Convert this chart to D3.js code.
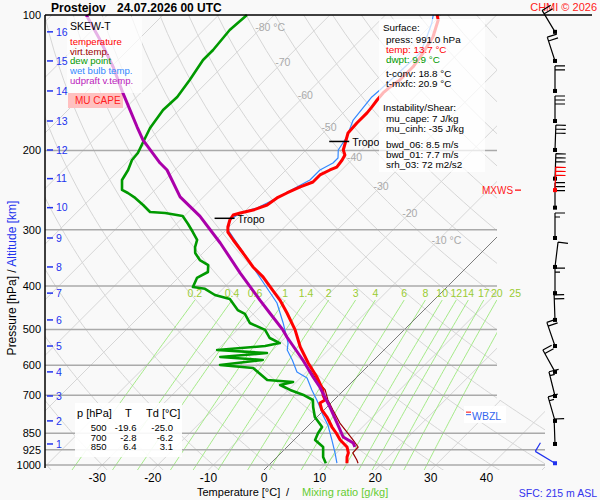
<!DOCTYPE html>
<html>
<head>
<meta charset="utf-8">
<script src="https://cdn.jsdelivr.net/npm/d3@7"></script>
<style>
  body { margin: 0; background: #f9f9f9; }
  text { font-family: "Liberation Sans", Arial, sans-serif; }
</style>
</head>
<body>
<div id="chart"></div>
<script>
// ── Sounding data ──
const tempP = [100, 102.6, 111.9, 121.5, 130.5, 139.5, 144.5, 149, 154.5, 160, 165, 173.8, 182.9, 192.5, 199.5, 204.7, 210, 217.7, 221, 226.7, 235, 241, 248.6, 255, 264.4, 271.3, 275.4, 278.3, 285.5, 295.9, 303.6, 316.2, 338, 363, 382, 408, 430, 459.4, 501, 546.7, 593.3, 637.5, 681, 700, 717, 728, 754.6, 782.3, 823.4, 850, 879.7, 912, 940, 960, 991];
const tempT = [-50.7, -49.6, -47.5, -46.4, -45.7, -45.7, -46.2, -46.4, -46.2, -45.9, -45.7, -45.7, -45.5, -44.2, -43.3, -42.1, -41.7, -41.4, -42.1, -43.0, -43.0, -44.4, -45.7, -46.6, -47.1, -48.7, -50.5, -51.4, -51.1, -50.2, -49.3, -46.9, -42.8, -38.5, -34.9, -30.9, -27.7, -24.1, -19.6, -15.6, -11.3, -7.2, -3.8, -2.8, -1.6, -2.0, -0.4, 1.8, 4.5, 6.4, 8.3, 10.8, 12.1, 12.6, 13.7];

const dewP = [100, 108, 119.6, 125.9, 139.5, 152.1, 162.6, 178.3, 187.6, 202.6, 210, 221, 232.6, 244.8, 248.6, 255, 264.4, 274, 275.4, 279.8, 291.4, 303.6, 316.2, 327.8, 338, 350.4, 359.4, 372.5, 384, 402.2, 406, 419, 427.7, 452.5, 461.7, 483.5, 501, 522.2, 535.8, 544, 555.3, 564, 575.4, 584.3, 599.4, 608.7, 647.4, 654, 664, 681, 700, 717, 743, 782, 823, 850, 880, 912, 960, 991];
const dewT = [-84.9, -85.3, -84.7, -84.7, -83.5, -82.7, -82.9, -82.0, -81.1, -79.7, -79.5, -78.4, -77.7, -75.9, -74.3, -72.1, -69.4, -66.9, -64.0, -60.3, -57.9, -55.6, -53.4, -52.5, -51.4, -49.3, -46.9, -45.7, -46.6, -45.7, -43.2, -40.3, -36.9, -33.5, -31.5, -29.0, -25.0, -22.7, -20.0, -22.1, -30.0, -20.5, -28.2, -20.0, -26.8, -20.3, -15.6, -10.6, -12.4, -9.7, -6.2, -3.8, -2.5, -0.4, 2.7, 3.1, 3.8, 6.5, 8.3, 9.9];

const wetP = [100, 104.2, 111.9, 121.5, 146.8, 152.1, 171.2, 186.6, 199.5, 207.9, 213.3, 221, 232.6, 241, 257.7, 268.4, 275.4, 285.5, 300.5, 321.1, 355.7, 392, 436.5, 483.5, 535.8, 555.3, 584.3, 621.3, 640.7, 681, 717, 743, 774.4, 815, 879.7, 940, 991];
const wetT = [-51.4, -50.2, -48.6, -46.9, -47.5, -47.7, -46.9, -45.0, -44.2, -42.8, -42.8, -43.9, -43.9, -45.0, -46.9, -48.4, -50.5, -51.1, -49.6, -45.7, -39.7, -34.0, -27.7, -23.0, -18.5, -17.4, -14.7, -11.7, -8.8, -5.8, -3.1, -1.3, 0.7, 3.4, 6.8, 9.7, 11.9];

const virtP = [615, 647.4, 681, 717, 754.6, 806.7, 844.9, 879.7, 912, 940, 974.7, 991];
const virtT = [-9.7, -6.7, -3.4, -1.1, 1.6, 5.2, 8.1, 10.6, 12.8, 12.9, 14.9, 15.7];

const parcelP = [100, 113.7, 130.5, 149, 177.4, 189.6, 213.3, 221, 253.7, 279.8, 321.1, 374.5, 430, 459.4, 501, 519.5, 584.3, 637.5, 671, 743, 806.7, 866.4, 893.4, 912];
const parcelT = [-113.8, -106.8, -99.6, -93.2, -84.5, -81.1, -73.9, -71.4, -64.2, -57.2, -48.7, -39.7, -31.3, -27.2, -21.8, -19.8, -12.8, -7.9, -4.9, 0.5, 4.7, 8.3, 11.2, 12.2];

// ── Axes / grid values ──
const pressureTicks = [100, 200, 300, 400, 500, 600, 700, 850, 925, 1000];
const tempTicks = [-30, -20, -10, 0, 10, 20, 30, 40];
const mixRatios = [0.2, 0.4, 0.6, 1, 1.4, 2, 3, 4, 6, 8, 10, 12, 14, 17, 20, 25];
const isoLabelT = [-80, -70, -60, -50, -40, -30, -20, -10];
const isoLabelP = [106.3, 127.2, 150.6, 177.4, 206.9, 240, 275.4, 316.2];
const kmAlt = [1, 2, 3, 4, 5, 6, 7, 8, 9, 10, 11, 12, 13, 14, 15, 16];
const kmP = [898, 798, 702.5, 621, 544, 476, 415, 363, 313, 268, 231, 199.5, 172, 147.5, 126.5, 109];

// ── Wind (surface first, then every km) ──
const windP = [991, 898, 798, 702.5, 621, 544, 476, 415, 363, 313, 268, 231, 199.5, 172, 147.5, 126.5, 109];
const windDir = [301, 358, 344, 346, 331, 341, 358, 0, 7, 0, 0, 2, 2, 0, 0, 342, 329];
const windSpd = [10, 10, 15, 15, 20, 20, 20, 15, 10, 15, 30, 30, 30, 30, 20, 20, 20];
const mxwsP = 245, mxwsDir = 2, mxwsSpd = 30;

// ── Special levels ──
const tropoP = [191, 283];
const tropoT = [-44.3, -51.1];
const freezeP = 763, wbzlP = 773;

// ── Text blocks ──
const legendItems = [
  { label: "temperature", color: "#ff0000" },
  { label: "virt.temp.", color: "#990000" },
  { label: "dew point", color: "#009900" },
  { label: "wet bulb temp.", color: "#3388ff" },
  { label: "udpraft v.temp.", color: "#bb22bb" },
];
const surfaceLines = [
  { text: "Surface:", color: "#000", x: 383, y: 31 },
  { text: "press: 991.0 hPa", color: "#000", x: 386, y: 43 },
  { text: "temp: 13.7 °C", color: "#ff0000", x: 386, y: 53 },
  { text: "dwpt: 9.9 °C", color: "#009900", x: 386, y: 63 },
  { text: "t-conv: 18.8 °C", color: "#000", x: 386, y: 77 },
  { text: "t-mxfc: 20.9 °C", color: "#000", x: 386, y: 87 },
  { text: "Instability/Shear:", color: "#000", x: 383, y: 111 },
  { text: "mu_cape: 7 J/kg", color: "#000", x: 386, y: 122 },
  { text: "mu_cinh: -35 J/kg", color: "#000", x: 386, y: 132 },
  { text: "bwd_06: 8.5 m/s", color: "#000", x: 386, y: 148 },
  { text: "bwd_01: 7.7 m/s", color: "#000", x: 386, y: 158 },
  { text: "srh_03: 72 m2/s2", color: "#000", x: 386, y: 168 },
];
const tableP = ["500", "700", "850"];
const tableT = ["-19.6", "-2.8", "6.4"];
const tableTd = ["-25.0", "-6.2", "3.1"];

const width = 600, height = 500;
const plot = { left: 45, right: 497, top: 15, bottom: 470 };

const svg = d3.select("#chart").append("svg")
  .attr("width", width)
  .attr("height", height);

svg.append("rect").attr("width", width).attr("height", height).attr("fill", "#f9f9f9");

// log-p vertical, skewed temperature horizontal (45 degrees)
const y = d3.scaleLog().domain([100, 1000]).range([15, 465]);
const xt = d3.scaleLinear().domain([0, 10]).range([264, 319.6]);
const sx = (t, p) => xt(t) + (plot.bottom - y(p));

const defs = svg.append("defs");
defs.append("clipPath").attr("id", "diag")
  .append("path")
  .attr("d", `M${plot.left},${plot.top}H${plot.right}V400H545V${plot.bottom}H${plot.left}Z`);

const grid = svg.append("g").attr("clip-path", "url(#diag)");

// ── Isotherms ──
d3.range(-150, 60, 10).forEach((t) => {
  grid.append("line")
    .attr("x1", xt(t)).attr("y1", plot.bottom)
    .attr("x2", xt(t) + (plot.bottom - plot.top)).attr("y2", plot.top)
    .attr("stroke", "#d6d6d6").attr("stroke-width", 1);
});

// ── Dry adiabats ──
const adiabatLine = d3.line().x((d) => sx(d.t, d.p)).y((d) => y(d.p));
d3.range(-40, 190, 10).forEach((t0) => {
  const theta = t0 + 273.15;
  const pts = d3.range(1040, 95, -10).map((p) => ({ p, t: theta * Math.pow(p / 1000, 0.2857) - 273.15 }));
  grid.append("path")
    .attr("d", adiabatLine(pts))
    .attr("fill", "none")
    .attr("stroke", "#d6d6d6").attr("stroke-width", 1);
});

// ── Mixing ratio lines ──
function tdFromMix(w, p) {
  const e = (w * p) / (622 + w);
  const l = Math.log(e / 6.112);
  return (243.5 * l) / (17.67 - l);
}
mixRatios.forEach((w) => {
  const pts = d3.range(1040, 429, -10).map((p) => ({ p, t: tdFromMix(w, p) }));
  pts.push({ p: 430, t: tdFromMix(w, 430) });
  grid.append("path")
    .attr("d", adiabatLine(pts))
    .attr("fill", "none")
    .attr("stroke", "#9be87a").attr("stroke-width", 0.9);
});

// 0 °C isotherm
grid.append("line")
  .attr("x1", xt(0)).attr("y1", plot.bottom)
  .attr("x2", xt(0) + (plot.bottom - plot.top)).attr("y2", plot.top)
  .attr("stroke", "#666").attr("stroke-width", 0.8);

// ── Isobars ──
pressureTicks.filter((p) => p > 100).forEach((p) => {
  svg.append("line")
    .attr("x1", plot.left).attr("x2", p >= 850 ? 545 : plot.right)
    .attr("y1", y(p)).attr("y2", y(p))
    .attr("stroke", "#aaa").attr("stroke-width", 1.5);
});

// mixing ratio labels
mixRatios.forEach((w) => {
  svg.append("text")
    .attr("x", sx(tdFromMix(w, 430), 430))
    .attr("y", 297)
    .attr("text-anchor", "middle")
    .attr("fill", "#99cc33")
    .attr("font-size", "10.5px")
    .text(w);
});

// isotherm labels
isoLabelT.forEach((t, i) => {
  const withUnit = t === -80 || t === -10;
  svg.append("text")
    .attr("x", sx(t, isoLabelP[i]) - (withUnit ? 7 : 0))
    .attr("y", y(isoLabelP[i]))
    .attr("dy", "0.35em")
    .attr("text-anchor", withUnit ? "start" : "middle")
    .attr("fill", "#aaa")
    .attr("font-size", "10.5px")
    .text(withUnit ? `${t} °C` : t);
});

// ── MU CAPE legend patch (under the curves) ──
svg.append("rect")
  .attr("x", 68).attr("y", 93).attr("width", 55).attr("height", 15)
  .attr("fill", "#ffc0c0");
svg.append("text")
  .attr("x", 75).attr("y", 104)
  .attr("fill", "#ff2020").attr("font-size", "10px")
  .text("MU CAPE");

// ── Profiles ──
const toPts = (P, T) => P.map((p, i) => ({ p, t: T[i] }));
const curves = [
  { P: wetP, T: wetT, color: "#3388ff", w: 1.2 },
  { P: virtP, T: virtT, color: "#990000", w: 1.2 },
  { P: dewP, T: dewT, color: "#009900", w: 2.6 },
  { P: tempP, T: tempT, color: "#ff0000", w: 3 },
  { P: parcelP, T: parcelT, color: "#aa00aa", w: 3 },
];
curves.forEach((c) => {
  svg.append("path")
    .attr("d", adiabatLine(toPts(c.P, c.T)))
    .attr("fill", "none")
    .attr("stroke", c.color)
    .attr("stroke-width", c.w)
    .attr("stroke-linejoin", "round");
});

// tropopause markers
tropoP.forEach((p, i) => {
  const tx = sx(tropoT[i], p);
  svg.append("line")
    .attr("x1", tx - 17).attr("x2", tx + 3)
    .attr("y1", y(p)).attr("y2", y(p))
    .attr("stroke", "#000").attr("stroke-width", 1.5);
  svg.append("text")
    .attr("x", tx + 6).attr("y", y(p) + 5)
    .attr("font-size", "10.5px")
    .text("Tropo");
});

// ── Translucent info boxes ──
svg.append("rect")
  .attr("x", 67).attr("y", 17).attr("width", 75).attr("height", 76)
  .attr("fill", "#fff").attr("opacity", 0.7);
svg.append("rect")
  .attr("x", 379).attr("y", 19).attr("width", 106).attr("height", 153)
  .attr("fill", "#fff").attr("opacity", 0.72);
svg.append("rect")
  .attr("x", 75).attr("y", 403).attr("width", 107).attr("height", 54)
  .attr("fill", "#fff").attr("opacity", 0.9);
svg.append("rect")
  .attr("x", 464).attr("y", 406).attr("width", 42).attr("height", 17)
  .attr("fill", "#fff").attr("opacity", 0.9);

// legend
svg.append("text").attr("x", 70).attr("y", 30).attr("font-size", "10.5px").text("SKEW-T");
legendItems.forEach((item, i) => {
  svg.append("text")
    .attr("x", 70).attr("y", 45 + i * 9.7)
    .attr("fill", item.color)
    .attr("font-size", "9.6px")
    .text(item.label);
});

// surface block
surfaceLines.forEach((l) => {
  svg.append("text")
    .attr("x", l.x).attr("y", l.y)
    .attr("fill", l.color)
    .attr("font-size", "9.9px")
    .text(l.text);
});

// level table
svg.append("text").attr("x", 77).attr("y", 417).attr("font-size", "11px").text("p [hPa]");
svg.append("text").attr("x", 125).attr("y", 417).attr("font-size", "11px").text("T");
svg.append("text").attr("x", 146).attr("y", 417).attr("font-size", "11px").text("Td [°C]");
tableP.forEach((p, i) => {
  const ry = 431 + i * 9.6;
  [[p, 106.5], [tableT[i], 136.5], [tableTd[i], 173]].forEach(([v, x]) => {
    svg.append("text")
      .attr("x", x).attr("y", ry)
      .attr("text-anchor", "end")
      .attr("font-size", "9.5px")
      .text(v);
  });
});

// WBZL / freezing level
svg.append("line").attr("x1", 466).attr("x2", 471).attr("y1", y(freezeP)).attr("y2", y(freezeP))
  .attr("stroke", "#ff0000").attr("stroke-width", 1);
svg.append("line").attr("x1", 466).attr("x2", 471).attr("y1", y(wbzlP)).attr("y2", y(wbzlP))
  .attr("stroke", "#3366ee").attr("stroke-width", 1);
svg.append("text").attr("x", 472).attr("y", 420)
  .attr("fill", "#3366ee").attr("font-size", "10.5px").text("WBZL");

// ── Frame and axes ──
svg.append("line")
  .attr("x1", plot.left).attr("x2", 592).attr("y1", plot.top).attr("y2", plot.top)
  .attr("stroke", "#000").attr("stroke-width", 1.5);
svg.append("line")
  .attr("x1", plot.left).attr("x2", plot.left).attr("y1", plot.top).attr("y2", 468)
  .attr("stroke", "#000").attr("stroke-width", 1.5);

pressureTicks.forEach((p) => {
  svg.append("text")
    .attr("x", 41).attr("y", y(p))
    .attr("dy", "0.35em")
    .attr("text-anchor", "end")
    .attr("font-size", "11px")
    .text(p);
});

kmAlt.forEach((k, i) => {
  svg.append("line")
    .attr("x1", 47).attr("x2", 53).attr("y1", y(kmP[i])).attr("y2", y(kmP[i]))
    .attr("stroke", "#2233ee").attr("stroke-width", 1.5);
  svg.append("text")
    .attr("x", 56).attr("y", y(kmP[i]))
    .attr("dy", "0.35em")
    .attr("fill", "#2233ee")
    .attr("font-size", "10.5px")
    .text(k);
});

tempTicks.forEach((t) => {
  svg.append("text")
    .attr("x", xt(t)).attr("y", 482)
    .attr("text-anchor", "middle")
    .attr("font-size", "12px")
    .text(t);
});

// axis titles
svg.append("text").attr("x", 197).attr("y", 496).attr("font-size", "11px").text("Temperature [°C]");
svg.append("text").attr("x", 286).attr("y", 496).attr("font-size", "11px").text("/");
svg.append("text").attr("x", 302).attr("y", 496).attr("font-size", "11px").attr("fill", "#66cc33").text("Mixing ratio [g/kg]");

const yTitle = svg.append("text")
  .attr("transform", "translate(16,278) rotate(-90)")
  .attr("text-anchor", "middle")
  .attr("font-size", "12px");
yTitle.append("tspan").attr("fill", "#000").text("Pressure [hPa]");
yTitle.append("tspan").attr("fill", "#000").text(" / ");
yTitle.append("tspan").attr("fill", "#2233ee").text("Altitude [km]");

// title
svg.append("text").attr("x", 51).attr("y", 12).attr("font-size", "12px").attr("font-weight", "bold").text("Prostejov");
svg.append("text").attr("x", 117).attr("y", 12).attr("font-size", "12px").attr("font-weight", "bold").text("24.07.2026 00 UTC");
svg.append("text").attr("x", 597).attr("y", 11).attr("text-anchor", "end").attr("font-size", "11px").attr("fill", "#ff2020").text("CHMI © 2026");
svg.append("text").attr("x", 597).attr("y", 497).attr("text-anchor", "end").attr("font-size", "10.5px").attr("fill", "#3333ee").text("SFC: 215 m ASL");

// ── Wind barbs ──
function barbPath(dir, spd, len) {
  const th = (dir * Math.PI) / 180;
  const ux = Math.sin(th), uy = -Math.cos(th);
  const nx = Math.cos(th), ny = Math.sin(th);
  let path = `M0,0L${ux * len},${uy * len}`;
  let pos = len;
  for (let k = 0; k < Math.floor(spd / 10); k++) {
    path += `M${ux * pos},${uy * pos}l${nx * 10},${ny * 10}`;
    pos -= 4;
  }
  if (spd % 10 >= 5) {
    if (pos === len) pos -= 4;
    path += `M${ux * pos},${uy * pos}l${nx * 5},${ny * 5}`;
  }
  return path;
}

const winds = windP.map((p, i) => ({
  p, dir: windDir[i], spd: windSpd[i],
  color: i === 0 ? "#2233ee" : "#000", len: i === 0 ? 23 : 25,
}));
winds.push({ p: mxwsP, dir: mxwsDir, spd: mxwsSpd, color: "#ff0000", len: 23 });

const barbs = svg.append("g")
  .selectAll("g")
  .data(winds)
  .join("g")
  .attr("transform", (d) => `translate(555,${y(d.p)})`);
barbs.append("path")
  .attr("d", (d) => barbPath(d.dir, d.spd, d.len))
  .attr("fill", "none")
  .attr("stroke", (d) => d.color)
  .attr("stroke-width", 1.2);
barbs.append("rect")
  .attr("x", -2).attr("y", -2).attr("width", 4).attr("height", 4)
  .attr("fill", (d) => d.color);

svg.append("text").attr("x", 482).attr("y", y(mxwsP) + 4)
  .attr("fill", "#ff2020").attr("font-size", "10px").text("MXWS");
svg.append("line").attr("x1", 515).attr("x2", 521).attr("y1", y(mxwsP)).attr("y2", y(mxwsP))
  .attr("stroke", "#ff0000").attr("stroke-width", 1.2);
</script>
</body>
</html>
